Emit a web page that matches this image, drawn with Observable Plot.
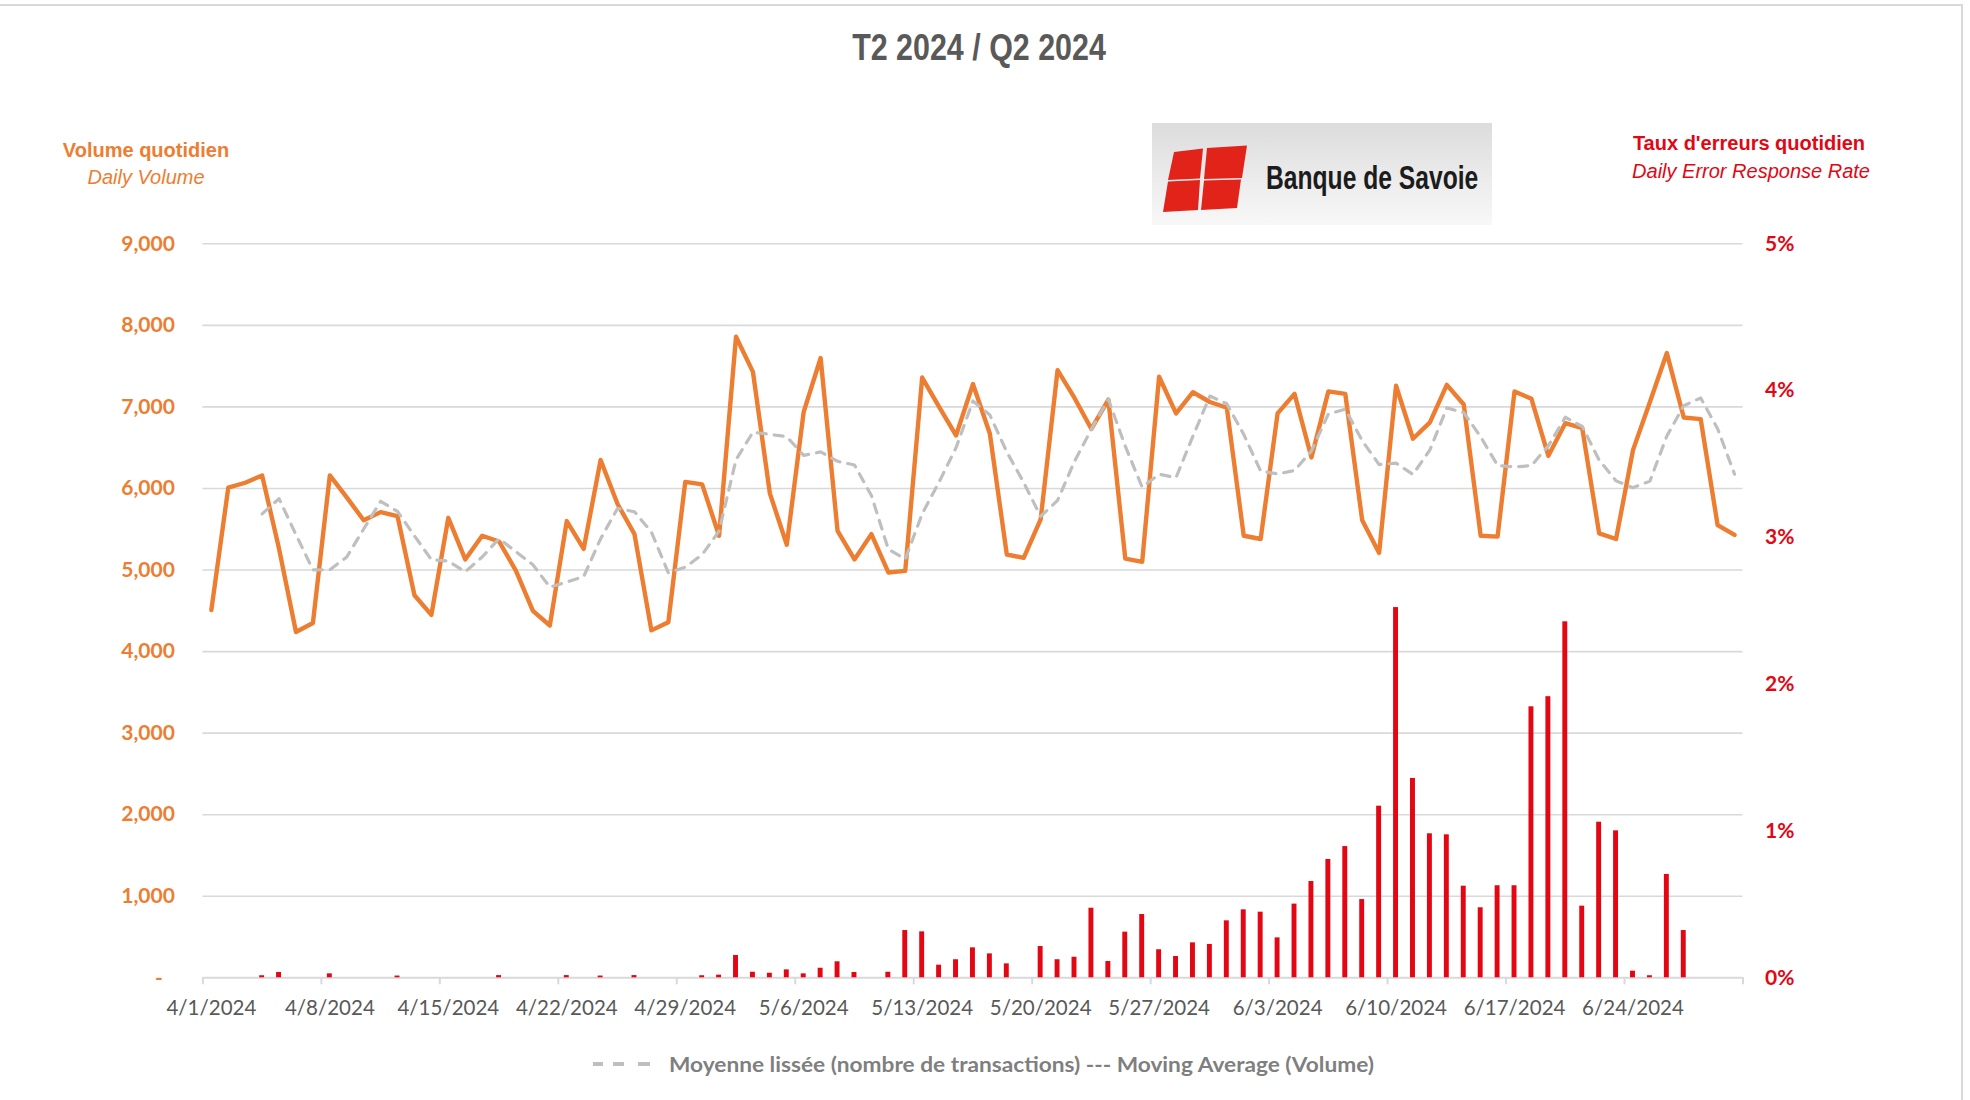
<!DOCTYPE html>
<html>
<head>
<meta charset="utf-8">
<script src="https://cdn.jsdelivr.net/npm/d3@7"></script>
<script src="https://cdn.jsdelivr.net/npm/@observablehq/plot@0.6"></script>
<style>
  html, body { margin: 0; padding: 0; background: #fff; }
  body { width: 1970px; height: 1100px; position: relative; overflow: hidden; font-family: "Liberation Sans", Arial, sans-serif; }
  .abs { position: absolute; white-space: nowrap; }
  .ctr { text-align: center; width: 400px; line-height: 20px; font-size: 20px; }
  #chart { position: absolute; left: 0; top: 0; }
</style>
</head>
<body>
<div class="abs" style="left:-4px;top:4px;width:1965px;height:1200px;border-top:2px solid #d9d9d9;border-right:2px solid #d9d9d9;"></div>

<div class="abs" style="left:0;width:1958px;top:29.5px;text-align:center;font-size:36px;line-height:36px;font-weight:bold;color:#595959;transform:scaleX(0.845);transform-origin:979px 0;">T2 2024 / Q2 2024</div>

<div class="abs ctr" style="left:-54px;top:139.5px;font-weight:bold;color:#ed7d31;">Volume quotidien</div>
<div class="abs ctr" style="left:-54px;top:166.5px;font-style:italic;color:#ed7d31;">Daily Volume</div>
<div class="abs ctr" style="left:1549px;top:133px;font-weight:bold;color:#e30613;">Taux d'erreurs quotidien</div>
<div class="abs ctr" style="left:1551px;top:161px;font-style:italic;color:#e30613;">Daily Error Response Rate</div>

<svg class="abs" style="left:1152px;top:123px" width="340" height="102">
  <defs>
    <linearGradient id="lg" x1="0" y1="0" x2="0" y2="1">
      <stop offset="0" stop-color="#dcdcdc"/>
      <stop offset="1" stop-color="#f8f8f8"/>
    </linearGradient>
  </defs>
  <rect width="340" height="102" fill="url(#lg)"/>
  <g fill="#e2231a">
    <polygon points="22,29 51,25.5 48,55.5 16,57"/>
    <polygon points="16,58.5 48,57 46,87 11,89"/>
    <polygon points="55,25 95,22.5 90,55 52,56"/>
    <polygon points="52,57.5 89,56.5 85,85 49,87"/>
  </g>
  <text transform="translate(114,66) scale(0.725,1)" font-family="Liberation Sans" font-weight="bold" font-size="34" fill="#1c1c1c">Banque de Savoie</text>
</svg>

<div id="chart"></div>

<svg class="abs" style="left:0;top:1030px" width="1970" height="70">
  <g stroke="#bfbfbf" stroke-width="4">
    <line x1="593" x2="603" y1="34" y2="34"/>
    <line x1="613" x2="624" y1="34" y2="34"/>
    <line x1="638" x2="650" y1="34" y2="34"/>
  </g>
  <text x="669" y="41.5" font-family="Lato" font-weight="bold" font-size="20" fill="#7f7f7f" textLength="705" lengthAdjust="spacingAndGlyphs">Moyenne lissée (nombre de transactions) --- Moving Average (Volume)</text>
</svg>

<script>
// ---------- data ----------
const startDate = "2024-04-01";
const endDate = "2024-07-01"; // exclusive: 91 daily categories, 4/1 .. 6/30

const tickLabels = ["4/1/2024", "4/8/2024", "4/15/2024", "4/22/2024", "4/29/2024", "5/6/2024", "5/13/2024",
                    "5/20/2024", "5/27/2024", "6/3/2024", "6/10/2024", "6/17/2024", "6/24/2024"];

const leftTicks = [0, 1000, 2000, 3000, 4000, 5000, 6000, 7000, 8000, 9000];
const rightTicksPct = [0, 1, 2, 3, 4, 5];

// daily transaction volume
const volume = [4510, 6010, 6070, 6160, 5260, 4240, 4350, 6160, 5890, 5610,
                5710, 5660, 4690, 4450, 5640, 5130, 5420, 5350, 4990, 4500,
                4320, 5600, 5260, 6350, 5810, 5440, 4260, 4360, 6080, 6050,
                5420, 7860, 7430, 5940, 5310, 6940, 7600, 5480, 5130, 5440,
                4970, 4990, 7360, 7000, 6650, 7280, 6670, 5190, 5150, 5620,
                7450, 7110, 6730, 7090, 5140, 5100, 7370, 6920, 7180, 7060,
                6990, 5420, 5380, 6920, 7160, 6380, 7190, 7160, 5610, 5210,
                7260, 6610, 6810, 7270, 7030, 5420, 5410, 7190, 7100, 6400,
                6800, 6740, 5450, 5380, 6470, 7060, 7660, 6870, 6850, 5550,
                5430];

// moving average (volume), as drawn
const movingAvg = [null, null, null, 5688, 5875, 5433, 5003, 5003, 5160, 5503,
                   5843, 5718, 5418, 5128, 5110, 4978, 5160, 5385, 5223, 5065,
                   4790, 4853, 4920, 5383, 5755, 5715, 5465, 4968, 5035, 5188,
                   5478, 6353, 6690, 6663, 6635, 6405, 6448, 6333, 6288, 5913,
                   5255, 5133, 5690, 6080, 6500, 7073, 6900, 6448, 6073, 5658,
                   5853, 6333, 6728, 7095, 6518, 6015, 6175, 6133, 6643, 7133,
                   7038, 6663, 6213, 6178, 6220, 6460, 6913, 6973, 6585, 6293,
                   6310, 6173, 6473, 6988, 6930, 6633, 6283, 6263, 6280, 6525,
                   6873, 6760, 6348, 6093, 6010, 6090, 6643, 7015, 7110, 6733,
                   6175];

// daily error response rate, in %
const errorRatePct = [0, 0, 0, 0.014, 0.036, 0, 0, 0.027, 0, 0,
                      0, 0.012, 0, 0, 0, 0, 0, 0.015, 0, 0,
                      0, 0.015, 0, 0.012, 0, 0.015, 0, 0, 0, 0.014,
                      0.018, 0.152, 0.038, 0.031, 0.054, 0.027, 0.065, 0.109, 0.036, 0,
                      0.038, 0.322, 0.313, 0.086, 0.123, 0.204, 0.163, 0.095, 0, 0.213,
                      0.123, 0.140, 0.474, 0.111, 0.311, 0.431, 0.191, 0.145, 0.238, 0.227,
                      0.388, 0.463, 0.447, 0.272, 0.502, 0.656, 0.806, 0.894, 0.533, 1.169,
                      2.522, 1.358, 0.981, 0.974, 0.624, 0.477, 0.627, 0.627, 1.846, 1.915,
                      2.425, 0.488, 1.060, 1.001, 0.045, 0.014, 0.704, 0.322, 0, 0,
                      0];

// ---------- build ----------
const parseISO = d3.utcParse("%Y-%m-%d");
const parseMDY = d3.utcParse("%m/%d/%Y");
const dates = d3.utcDay.range(parseISO(startDate), parseISO(endDate));
const rows = dates.map((date, i) => ({date, volume: volume[i], ma: movingAvg[i], rate: errorRatePct[i]}));
const PCT = 9000 / 5; // right axis: 5 % sits on the 9,000 line
const mid = d => d3.utcHour.offset(d, 12);
const labelDates = tickLabels.map(parseMDY);
const boundaries = [...labelDates, parseISO(endDate)];

const W = 1970, H = 1030;
const X0 = 202.4, X1 = 1742.5, YTOP = 243.3, YBOT = 977.3;

const chart = Plot.plot({
  width: W,
  height: H,
  marginLeft: X0,
  marginRight: W - X1,
  marginTop: YTOP,
  marginBottom: H - YBOT,
  style: {background: "transparent", overflow: "visible"},
  x: {type: "utc", domain: [parseISO(startDate), parseISO(endDate)], axis: null},
  y: {domain: [0, 9000], axis: null},
  marks: [
    Plot.gridY(leftTicks.filter(v => v > 0), {stroke: "#d9d9d9", strokeOpacity: 1, strokeWidth: 1.6}),
    Plot.ruleY([0], {stroke: "#d9d9d9", strokeWidth: 2}),
    Plot.axisX(boundaries, {tickSize: 7, tickFormat: () => "", stroke: "#d9d9d9", strokeWidth: 2, strokeOpacity: 1}),
    Plot.text(tickLabels, {x: s => mid(parseMDY(s)), y: 0, text: d => d, dy: 31, fill: "#595959",
      fontFamily: "Lato", fontSize: 20.5}),
    Plot.axisY(leftTicks, {anchor: "left", tickSize: 0, tickPadding: 28, label: null,
      tickFormat: v => v === 0 ? "-\u2007" : d3.format(",")(v),
      fill: "#ed7d31", fontFamily: "Lato", fontWeight: "bold", fontSize: 21}),
    Plot.axisY(rightTicksPct.map(p => p * PCT), {anchor: "right", tickSize: 0, tickPadding: 22, label: null,
      tickFormat: v => Math.round(v / PCT) + "%",
      fill: "#e30613", fontFamily: "Lato", fontWeight: "bold", fontSize: 21}),
    Plot.rect(rows.filter(d => d.rate > 0), {
      x1: d => d.date, x2: d => d3.utcDay.offset(d.date, 1),
      y1: 0, y2: d => d.rate * PCT,
      insetLeft: 6, insetRight: 6, fill: "#e30613"
    }),
    Plot.line(rows, {x: d => mid(d.date), y: "volume", stroke: "#ed7d31", strokeWidth: 4.4,
      strokeLinejoin: "round", strokeLinecap: "round"}),
    Plot.line(rows, {x: d => mid(d.date), y: "ma", stroke: "#bfbfbf", strokeWidth: 3.2,
      strokeDasharray: "9,8", strokeLinecap: "round", strokeLinejoin: "round"})
  ]
});
document.getElementById("chart").appendChild(chart);
</script>
</body>
</html>
